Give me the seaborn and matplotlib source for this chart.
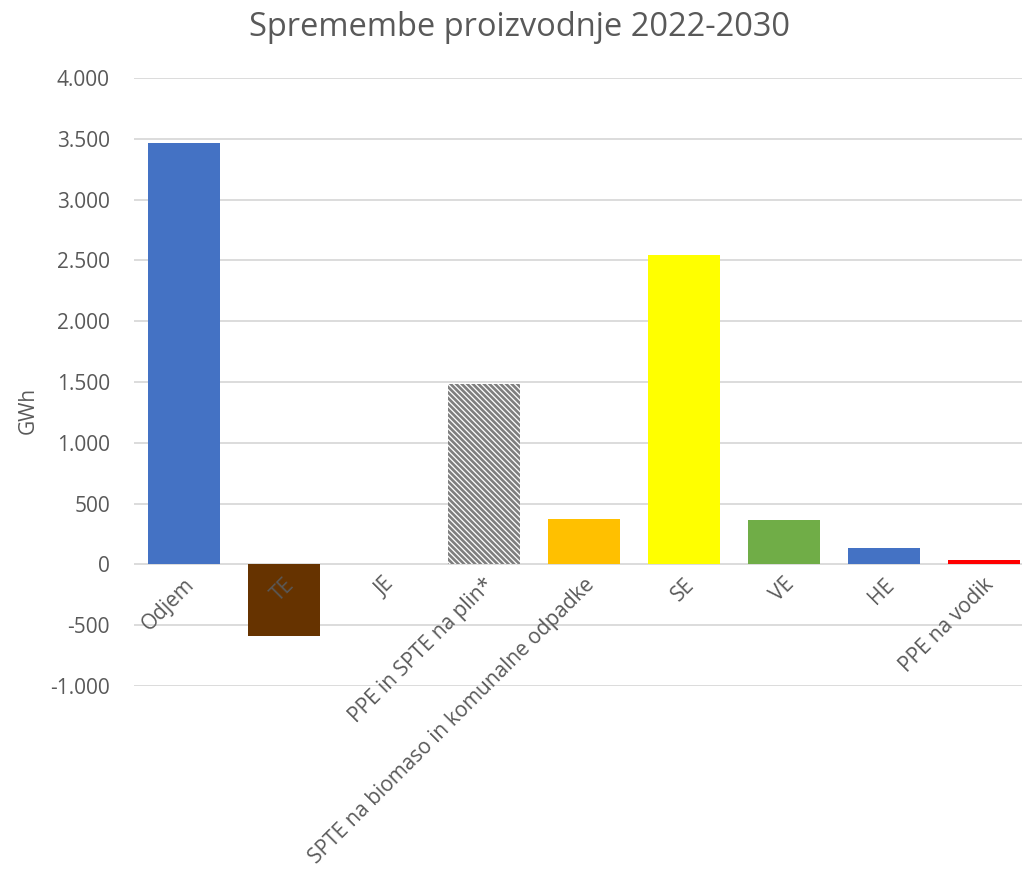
import matplotlib
matplotlib.use("Agg")
import matplotlib.pyplot as plt
import seaborn as sns
import pandas as pd
from matplotlib.ticker import FuncFormatter, MultipleLocator

categories = ["Odjem", "TE", "JE", "PPE in SPTE na plin*",
              "SPTE na biomaso in komunalne odpadke", "SE", "VE", "HE", "PPE na vodik"]
values = [3465, -590, 0, 1480, 372, 2542, 363, 132, 33]
colors = ["#4472C4", "#663300", "#A5A5A5", "#FFFFFF", "#FFC000", "#FFFF00",
          "#70AD47", "#4472C4", "#FF0000"]
title = "Spremembe proizvodnje 2022-2030"
ylabel = "GWh"

sns.set_theme(style="white")
plt.rcParams['font.family'] = ['Open Sans', 'DejaVu Sans']
plt.rcParams['hatch.linewidth'] = 1.9
txt = "#595959"

df = pd.DataFrame({"cat": categories, "val": values})
fig = plt.figure(figsize=(10.22, 8.72), dpi=100)
ax = fig.add_axes([133.5 / 1022, 1 - 686 / 872, 900 / 1022, 608 / 872])

sns.barplot(data=df, x="cat", y="val", hue="cat", palette=colors, legend=False,
            width=0.72, ax=ax, saturation=1, zorder=3, linewidth=0)

for i, p in enumerate(ax.patches):
    if i == 3:
        p.set_facecolor("white")
        p.set_edgecolor("#7F7F7F")
        p.set_hatch("\\\\\\\\\\\\")
        p.set_linewidth(0)

ax.set_ylim(-1000, 4000)
ax.set_xlim(-0.5, len(categories) - 0.5)
ax.yaxis.set_major_locator(MultipleLocator(500))
ax.yaxis.set_major_formatter(FuncFormatter(lambda v, p: f"{v:,.0f}".replace(",", ".")))
ax.grid(axis="y", color="#D9D9D9", linewidth=1.3, zorder=0)
ax.set_axisbelow(True)
for s in ax.spines.values():
    s.set_visible(False)
ax.tick_params(axis="y", labelsize=15, labelcolor=txt, pad=17, length=0)
ax.set_xticks([])
ax.set_xlabel("")
ax.set_ylabel("")

for i, c in enumerate(categories):
    ax.annotate(c, xy=(i, 0), xytext=(0, -7), textcoords="offset points",
                rotation=45, ha="right", va="top", rotation_mode="anchor",
                fontsize=15, color=txt, zorder=5, annotation_clip=False)

fig.text(519 / 1022, 1 - 27 / 872, title, ha="center", va="center",
         fontsize=23.5, color=txt)
fig.text(28 / 1022, 1 - 410 / 872, ylabel, ha="center", va="center",
         rotation=90, fontsize=15, color=txt)

fig.savefig("out.png", dpi=100, facecolor="white")
